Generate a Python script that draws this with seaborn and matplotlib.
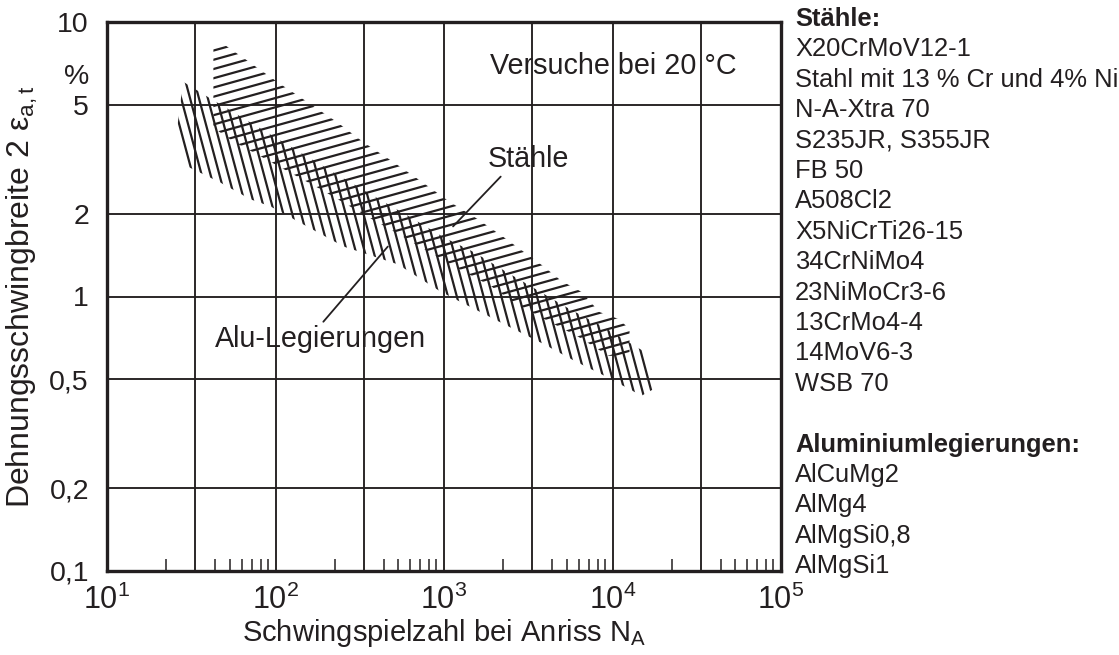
import numpy as np
import matplotlib
matplotlib.use("Agg")
import matplotlib.pyplot as plt
import matplotlib.transforms as mtransforms
from matplotlib.collections import LineCollection
from matplotlib.patches import Polygon
import seaborn as sns

# ---------------- data ----------------
# Steel band (Stähle): upper/right edge and lower/left edge  (N, 2*eps in %)
steel_upper_N = [42.8, 49, 64.5, 104, 157, 234, 334, 504, 750, 1071, 1593, 2276,
                 2993, 3884, 4972, 6537, 8370, 10860, 12620]
steel_upper_E = [8.32, 8.32, 7.40, 6.01, 5.08, 4.30, 3.64, 3.08, 2.60, 2.22, 1.91, 1.64,
                 1.45, 1.29, 1.14, 1.04, 0.878, 0.828, 0.762]
steel_lower_N = [42.8, 42.8, 56.2, 78.2, 119, 185, 334, 518, 803, 1228, 1905, 2576,
                 3936, 6280, 9460, 12620]
steel_lower_E = [8.32, 4.12, 3.67, 3.29, 2.85, 2.46, 1.99, 1.71, 1.46, 1.26, 1.09, 0.955,
                 0.828, 0.713, 0.608, 0.608]

# Aluminium band (Alu-Legierungen)
alu_upper_N = [26.1, 28.3, 37.8, 221, 353, 636, 1000, 1509, 2339, 3630, 5546, 8836, 15490]
alu_upper_E = [4.12, 6.06, 5.43, 2.83, 2.39, 1.94, 1.64, 1.45, 1.23, 1.05, 0.901, 0.775, 0.629]
alu_lower_N = [29.9, 47.1, 71.0, 93.3, 254, 532, 959, 2576, 3884, 5940, 9210, 14880, 17780]
alu_lower_E = [2.98, 2.60, 2.26, 2.13, 1.52, 1.31, 1.04, 0.762, 0.672, 0.583, 0.510, 0.435, 0.462]

x_decades = [10, 100, 1000, 10000, 100000]
x_decade_labels = [r"$\mathregular{10^{1}}$", r"$\mathregular{10^{2}}$", r"$\mathregular{10^{3}}$",
                   r"$\mathregular{10^{4}}$", r"$\mathregular{10^{5}}$"]
x_grid_mid = [33.5, 335, 3350, 33500]
x_minor_mult = [2.25, 4.4, 5.35, 6.3, 7.25, 8.15, 9.0]
y_ticks = [0.1, 0.2, 0.5, 1, 2, 5, 10]
y_tick_labels = ["0,1", "0,2", "0,5", "1", "2", "5", "10"]

legend_steel = ["X20CrMoV12-1", "Stahl mit 13 % Cr und 4% Ni", "N-A-Xtra 70",
                "S235JR, S355JR", "FB 50", "A508Cl2", "X5NiCrTi26-15", "34CrNiMo4",
                "23NiMoCr3-6", "13CrMo4-4", "14MoV6-3", "WSB 70"]
legend_alu = ["AlCuMg2", "AlMg4", "AlMgSi0,8", "AlMgSi1"]

INK = "#231f20"

# ---------------- style ----------------
sns.set_theme(style="white")
plt.rcParams["font.family"] = ["Liberation Sans", "DejaVu Sans"]
plt.rcParams["mathtext.fontset"] = "custom"
plt.rcParams["mathtext.rm"] = "Liberation Sans"
plt.rcParams["text.color"] = INK
plt.rcParams["axes.labelcolor"] = INK
plt.rcParams["xtick.color"] = INK
plt.rcParams["ytick.color"] = INK

fig = plt.figure(figsize=(11.19, 6.55), dpi=100)
W_FIG, H_FIG = 1119, 655
AX_L, AX_R, AX_T, AX_B = 107, 781, 22, 571
ax = fig.add_axes([AX_L / W_FIG, 1 - AX_B / H_FIG, (AX_R - AX_L) / W_FIG, (AX_B - AX_T) / H_FIG])
ax.set_xscale("log")
ax.set_yscale("log")
ax.set_xlim(10, 1e5)
ax.set_ylim(0.1, 10)
W = AX_R - AX_L
H = AX_B - AX_T

# grid lines
for x in x_decades[1:-1] + x_grid_mid:
    ax.axvline(x, color=INK, lw=1.35, zorder=1)
for y in y_ticks[1:-1]:
    ax.axhline(y, color=INK, lw=1.35, zorder=1)

for s in ax.spines.values():
    s.set_linewidth(2.4)
    s.set_color(INK)

# ticks
ax.set_xticks(x_decades)
ax.set_xticklabels(x_decade_labels)
minor = [m * d for d in x_decades[:-1] for m in x_minor_mult]
ax.set_xticks(minor, minor=True)
ax.xaxis.set_minor_formatter(matplotlib.ticker.NullFormatter())
ax.set_yticks(y_ticks)
ax.set_yticklabels(y_tick_labels)
ax.yaxis.set_minor_locator(matplotlib.ticker.NullLocator())
ax.tick_params(axis="both", which="major", length=0)
ax.tick_params(axis="x", which="major", pad=10, labelsize=22)
ax.tick_params(axis="y", which="major", pad=13, labelsize=20.5)
ax.tick_params(axis="x", which="minor", direction="in", length=8.5, width=1.1,
               bottom=True, top=False, color=INK)

ax.text(-18 / W, 6.3, "%", fontsize=20.5, ha="right", va="center",
        transform=mtransforms.blended_transform_factory(ax.transAxes, ax.transData))

ax.set_xlabel(r"Schwingspielzahl bei Anriss N$_{\mathregular{A}}$", fontsize=21)
ax.set_ylabel(r"Dehnungsschwingbreite 2 ε$_{\mathregular{a,t}}$", fontsize=23)
ax.xaxis.set_label_coords(0.5, -(633 - AX_B) / H)
ax.xaxis.label.set_va("center")
ax.yaxis.set_label_coords(-(AX_L - 22) / W, 0.5)
ax.yaxis.label.set_va("center")

# ---------------- hatched bands ----------------
steel_poly = Polygon(np.column_stack([steel_upper_N + steel_lower_N[::-1],
                                      steel_upper_E + steel_lower_E[::-1]]),
                     closed=True, fill=False, edgecolor="none")
alu_poly = Polygon(np.column_stack([alu_upper_N + alu_lower_N[::-1],
                                    alu_upper_E + alu_lower_E[::-1]]),
                   closed=True, fill=False, edgecolor="none")
ax.add_patch(steel_poly)
ax.add_patch(alu_poly)


def hatch(poly, angle_deg, spacing, offset=0.0, lw=1.6):
    th = np.deg2rad(angle_deg)
    d = np.array([np.cos(th), np.sin(th)])
    n = np.array([-np.sin(th), np.cos(th)])
    L = np.hypot(W, H)
    c = np.array([W / 2, H / 2])
    segs = []
    for k in np.arange(-L, L, spacing) + offset:
        p = c + k * n
        a = p - L * d
        b = p + L * d
        segs.append([(a[0] / W, a[1] / H), (b[0] / W, b[1] / H)])
    lc = LineCollection(segs, transform=ax.transAxes, colors=INK, linewidths=lw,
                        zorder=3, capstyle="butt")
    ax.add_collection(lc)
    lc.set_clip_path(poly)


hatch(steel_poly, 15.5, 8.9, offset=2.0)
hatch(alu_poly, -75.0, 8.6, offset=4.5)

# ---------------- annotations ----------------
ax.text(10140, 6.92, "Versuche bei 20 °C", fontsize=20.7, ha="center", va="center")
ax.annotate("Stähle", xy=(1132, 1.80), xytext=(3162, 3.16), fontsize=20.7,
            ha="center", va="center",
            arrowprops=dict(arrowstyle="-", color=INK, lw=1.3, shrinkA=0, shrinkB=0,
                            relpos=(0.2, 0.0)))
ax.annotate("Alu-Legierungen", xy=(464, 1.52), xytext=(185, 0.70), fontsize=20.7,
            ha="center", va="center",
            arrowprops=dict(arrowstyle="-", color=INK, lw=1.3, shrinkA=0, shrinkB=0,
                            relpos=(0.5, 1.0)))

# ---------------- right-hand list ----------------
x_txt = 795 / W_FIG
y0 = 19
step = 30.4
lines = [("Stähle:", "bold")] + [(t, "normal") for t in legend_steel] + [("", "normal")] \
        + [("Aluminiumlegierungen:", "bold")] + [(t, "normal") for t in legend_alu]
for i, (t, w) in enumerate(lines):
    if t:
        fig.text(x_txt, 1 - (y0 + i * step) / H_FIG, t, fontsize=18.4, fontweight=w,
                 ha="left", va="center")

fig.savefig("out.png", dpi=100)
